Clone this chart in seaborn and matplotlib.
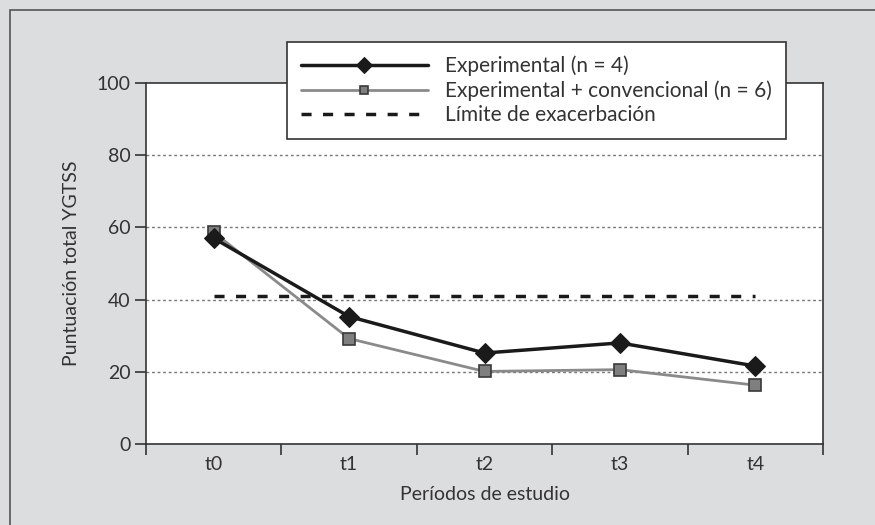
import pandas as pd
import matplotlib.pyplot as plt
import seaborn as sns
from matplotlib.patches import Rectangle

# Chart values
periods = ['t0', 't1', 't2', 't3', 't4']
experimental = [57, 35.3, 25.2, 28, 21.6]
experimental_conv = [58.6, 29.2, 20.1, 20.6, 16.3]
limit = [41, 41, 41, 41, 41]

df = pd.DataFrame({'Periodo': periods, 'exp': experimental,
                   'conv': experimental_conv, 'lim': limit})

sns.set_style('ticks')
plt.rcParams['font.family'] = ['Lato', 'DejaVu Sans']
txt = '#333333'

fig = plt.figure(figsize=(8.75, 5.25), dpi=100)
fig.patch.set_facecolor('#dcdddf')
ax = fig.add_axes([146/875, 1-444/525, (823-146)/875, (444-83)/525])
ax.set_facecolor('white')

# outer frame of the figure
fig.patches.append(Rectangle((10/875, -0.2), 1.2, 1.2 - 10/525, transform=fig.transFigure,
                             fill=False, edgecolor='#555555', lw=1.2, zorder=0))

for y in [20, 40, 60, 80]:
    ax.axhline(y, color='#777777', lw=1, ls=(0, (2, 2)), zorder=0)

sns.lineplot(data=df, x='Periodo', y='lim', ax=ax, color='#1a1a1a', lw=2.5,
             dashes=False, ls=(0, (2.9, 3.3)), label='Límite de exacerbación', zorder=2)
sns.lineplot(data=df, x='Periodo', y='conv', ax=ax, color='#8a8a8a', lw=2,
             marker='s', markersize=8, markerfacecolor='#7f7f7f', markeredgecolor='#3a3a3a',
             markeredgewidth=1.2, label='Experimental + convencional (n = 6)', zorder=3)
sns.lineplot(data=df, x='Periodo', y='exp', ax=ax, color='#1a1a1a', lw=2.5,
             marker='D', markersize=10, markerfacecolor='#1a1a1a', markeredgecolor='#1a1a1a',
             label='Experimental (n = 4)', zorder=4)

ax.set_xlim(-0.5, 4.5)
ax.set_ylim(0, 100)
ax.set_yticks([0, 20, 40, 60, 80, 100])
ax.set_xticks(range(5))
ax.set_xticklabels(periods)
ax.set_xticks([i - 0.5 for i in range(6)], minor=True)
ax.tick_params(axis='x', which='major', length=0, pad=9, labelsize=14, labelcolor=txt)
ax.tick_params(axis='x', which='minor', length=8, width=1.2, color='#333333', direction='out')
ax.tick_params(axis='y', length=8, width=1.2, color='#333333', pad=3, labelsize=14, labelcolor=txt)
for s in ax.spines.values():
    s.set_color('#333333')
    s.set_linewidth(1.2)

ax.set_xlabel('Períodos de estudio', fontsize=14, color=txt, labelpad=9)
ax.set_ylabel('Puntuación total YGTSS', fontsize=14, color=txt, labelpad=12)

handles, labels = ax.get_legend_handles_labels()
ax.get_legend().remove()
order = [2, 1, 0]
leg = fig.legend([handles[i] for i in order], [labels[i] for i in order],
                 loc='upper left', bbox_to_anchor=(287/875, 1-42/525),
                 fontsize=15, handlelength=6.1, handletextpad=0.85, labelspacing=0.2,
                 borderpad=0.65, borderaxespad=0, markerscale=0.8,
                 frameon=True, fancybox=False)
leg.get_frame().set_edgecolor('#333333')
leg.get_frame().set_linewidth(1.2)
leg.get_frame().set_alpha(1)
for t in leg.get_texts():
    t.set_color(txt)

plt.savefig('out.png', dpi=100, facecolor=fig.get_facecolor())
plt.close()
